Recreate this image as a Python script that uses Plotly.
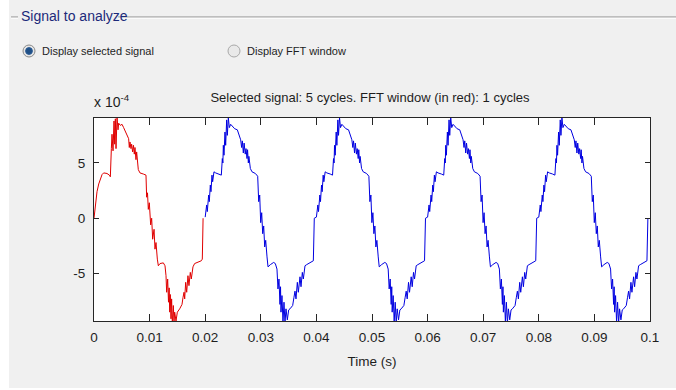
import plotly.graph_objects as go

# ---------------- data ----------------
# time in ms, signal in units of 1e-4
red_t_ms = [0.00, 0.30, 0.54, 0.85, 1.14, 1.45, 1.74, 2.34, 2.76, 2.94,
            3.12, 3.24, 3.42, 3.60, 3.72, 3.84, 3.96, 4.14, 4.32, 4.44,
            4.74, 5.04, 5.33, 5.63, 5.93, 6.23, 6.35, 6.47, 6.65, 6.77,
            6.95, 7.10, 7.25, 7.37, 7.55, 7.67, 7.97, 8.27, 8.87, 9.35,
            9.47, 9.62, 9.77, 9.95, 10.19, 10.37, 10.55, 10.80, 10.97, 11.15,
            11.39, 11.57, 11.87, 12.47, 12.77, 12.95, 13.07, 13.25, 13.40, 13.52,
            13.62, 13.72, 13.85, 13.96, 14.09, 14.27, 14.39, 14.51, 14.75, 14.99,
            15.41, 15.83, 16.00, 16.19, 16.31, 16.49, 16.67, 16.90, 17.08, 17.32,
            17.50, 17.80, 18.10, 18.70, 19.30, 19.48, 19.62]
red_v = [0.0, 1.5, 2.4, 3.1, 3.6, 3.95, 4.1, 4.05, 3.9, 3.75,
         6.3, 7.6, 6.1, 8.8, 6.7, 9.0, 6.3, 9.2, 8.0, 8.6,
         8.4, 8.5, 8.2, 7.9, 7.5, 7.2, 6.4, 6.9, 6.3, 6.7,
         6.0, 6.6, 5.8, 6.4, 5.3, 6.0, 4.4, 4.1, 4.0, 3.9,
         1.9, 2.3, 0.8, 1.4, -0.6, 0.0, -1.9, -1.0, -2.8, -2.2,
         -3.7, -4.3, -4.1, -4.04, -4.3, -5.2, -6.7, -5.5, -7.6, -6.3,
         -8.5, -6.9, -9.1, -7.3, -9.6, -7.9, -9.4, -8.5, -9.3, -8.5,
         -8.2, -7.8, -7.2, -6.7, -7.3, -5.8, -6.7, -5.2, -6.1, -4.9,
         -5.5, -4.4, -4.1, -4.0, -3.85, -3.7, 0.0]

# one blue cycle (time relative to cycle start, ms)
blue_t_ms = [0.00, 0.26, 0.38, 0.62, 0.74, 0.92, 1.04, 1.22, 1.34, 1.58,
             1.88, 2.48, 2.90, 3.08, 3.18, 3.26, 3.38, 3.56, 3.68, 3.86,
             3.98, 4.16, 4.34, 4.58, 4.88, 5.30, 5.78, 6.08, 6.38, 6.55,
             6.68, 6.86, 7.00, 7.20, 7.34, 7.52, 7.62, 7.76, 7.86, 8.12,
             8.42, 9.02, 9.44, 9.62, 9.80, 9.98, 10.16, 10.34, 10.52, 10.70,
             10.88, 11.12, 11.30, 11.72, 12.31, 12.61, 12.91, 13.09, 13.27, 13.45,
             13.55, 13.63, 13.81, 13.99, 14.17, 14.35, 14.53, 14.77, 15.01, 15.25,
             15.73, 15.95, 16.15, 16.33, 16.57, 16.75, 17.05, 17.23, 17.47, 17.65,
             17.95, 18.25, 18.85, 19.45, 19.62]
blue_v = [0.1, 1.2, 0.6, 2.1, 1.5, 3.0, 2.4, 3.9, 3.3, 4.2,
          4.1, 4.0, 3.9, 5.4, 5.0, 6.6, 5.7, 7.8, 6.6, 8.9,
          7.5, 9.1, 8.2, 8.5, 8.3, 8.1, 8.0, 7.5, 7.1, 6.4,
          7.0, 5.9, 6.8, 5.8, 6.3, 5.4, 6.2, 5.0, 5.6, 4.5,
          4.2, 4.05, 3.8, 1.5, 2.1, -0.4, 0.5, -1.4, -0.7, -2.6,
          -2.0, -3.5, -4.4, -4.2, -4.0, -4.1, -4.6, -6.4, -5.5, -7.8,
          -6.2, -8.5, -7.0, -9.4, -7.6, -9.5, -8.2, -9.2, -8.3, -8.2,
          -7.9, -7.2, -6.6, -7.3, -5.8, -6.7, -5.3, -6.2, -4.9, -5.5,
          -4.3, -4.2, -4.0, -3.85, 0.0]
blue_cycle_starts_ms = [20, 40, 60, 80]

y_scale = 1e-4
x_tick_vals = [0, 0.01, 0.02, 0.03, 0.04, 0.05, 0.06, 0.07, 0.08, 0.09, 0.1]
x_tick_labels = ["0", "0.01", "0.02", "0.03", "0.04", "0.05", "0.06", "0.07", "0.08", "0.09", "0.1"]
y_tick_vals = [-5e-4, 0, 5e-4]
y_tick_labels = ["-5", "0", "5"]

title_text = "Selected signal: 5 cycles. FFT window (in red): 1 cycles"
x_title = "Time (s)"
group_title = "Signal to analyze"
radio1_text = "Display selected signal"
radio2_text = "Display FFT window"

# ---------------- build series ----------------
red_x = [t / 1000 for t in red_t_ms]
red_y = [v * y_scale for v in red_v]
blue_x, blue_y = [], []
for s in blue_cycle_starts_ms:
    blue_x += [(s + t) / 1000 for t in blue_t_ms]
    blue_y += [v * y_scale for v in blue_v]

# ---------------- layout geometry ----------------
W, H = 676, 390
L, R, T, B = 94, 650, 118, 321
PW, PH = R - L, B - T


def px(X):
    return (X - L) / PW


def py(Y):
    return (B - Y) / PH


FONT = "Liberation Sans, Arial, sans-serif"
TXT = "#1e1e1e"

fig = go.Figure()
fig.add_trace(go.Scatter(x=blue_x, y=blue_y, mode="lines",
                         line=dict(color="#0000e0", width=1), showlegend=False, hoverinfo="skip"))
fig.add_trace(go.Scatter(x=red_x, y=red_y, mode="lines",
                         line=dict(color="#e00000", width=1), showlegend=False, hoverinfo="skip"))

shapes = []
# white strips at image edges
shapes.append(dict(type="rect", xref="paper", yref="paper", x0=px(0), x1=px(9), y0=py(0), y1=py(H),
                   fillcolor="white", line=dict(width=0), layer="below"))
shapes.append(dict(type="rect", xref="paper", yref="paper", x0=px(0), x1=px(W), y0=py(388), y1=py(H),
                   fillcolor="white", line=dict(width=0), layer="below"))
# group box etched line
for (a, b) in [(11, 18), (118, W)]:
    shapes.append(dict(type="line", xref="paper", yref="paper", x0=px(a), x1=px(b), y0=py(17), y1=py(17),
                       line=dict(color="#8c8c8c", width=1)))
    shapes.append(dict(type="line", xref="paper", yref="paper", x0=px(a), x1=px(b), y0=py(18.2), y1=py(18.2),
                       line=dict(color="#ffffff", width=1)))


# radio buttons
def circle(cx, cy, r, fill, lc, lw=1):
    return dict(type="circle", xref="paper", yref="paper", x0=px(cx - r), x1=px(cx + r),
                y0=py(cy + r), y1=py(cy - r), fillcolor=fill, line=dict(color=lc, width=lw))


shapes.append(circle(29, 51, 6, "#e6e6e6", "#8a8a8a"))
shapes.append(circle(29, 51, 3.4, "#1f4f86", "#2d5d95"))
shapes.append(circle(234, 51, 6, "#e9e9e9", "#a8a8a8"))

annotations = [
    dict(text=group_title, xref="paper", yref="paper", x=px(19), y=py(16), xanchor="left", yanchor="middle",
         showarrow=False, font=dict(family=FONT, size=14, color="#1c2a7a")),
    dict(text=radio1_text, xref="paper", yref="paper", x=px(40), y=py(51), xanchor="left", yanchor="middle",
         showarrow=False, font=dict(family=FONT, size=11, color=TXT)),
    dict(text=radio2_text, xref="paper", yref="paper", x=px(245), y=py(51), xanchor="left", yanchor="middle",
         showarrow=False, font=dict(family=FONT, size=11, color=TXT)),
    dict(text="x 10<sup>-4</sup>", xref="paper", yref="paper", x=px(92), y=py(101), xanchor="left",
         yanchor="middle", showarrow=False, font=dict(family=FONT, size=14, color=TXT)),
]

fig.update_layout(
    width=W, height=H, autosize=False,
    margin=dict(l=L, r=W - R, t=T, b=H - B, pad=0),
    paper_bgcolor="#f0f0f0", plot_bgcolor="white",
    font=dict(family=FONT, size=13, color=TXT),
    title=dict(text=title_text, x=370 / W, xanchor="center", y=1 - 97 / H, yanchor="middle",
               font=dict(family=FONT, size=13, color=TXT)),
    shapes=shapes, annotations=annotations,
    xaxis=dict(range=[0, 0.1], tickmode="array", tickvals=x_tick_vals, ticktext=x_tick_labels,
               ticks="inside", ticklen=7, tickwidth=1, tickcolor="#262626",
               showline=True, linecolor="#262626", linewidth=1, mirror="ticks",
               showgrid=False, zeroline=False, ticklabelstandoff=4,
               tickfont=dict(family=FONT, size=13.5, color=TXT)),
    yaxis=dict(range=[-9.3e-4, 9.07e-4], tickmode="array", tickvals=y_tick_vals, ticktext=y_tick_labels,
               ticks="inside", ticklen=5, tickwidth=1, tickcolor="#262626",
               showline=True, linecolor="#262626", linewidth=1, mirror="ticks",
               showgrid=False, zeroline=False, ticklabelstandoff=5,
               tickfont=dict(family=FONT, size=13.5, color=TXT)),
)
fig.update_xaxes(title=dict(text=x_title, standoff=12, font=dict(family=FONT, size=13.5, color=TXT)))

fig.write_html("out.html")
